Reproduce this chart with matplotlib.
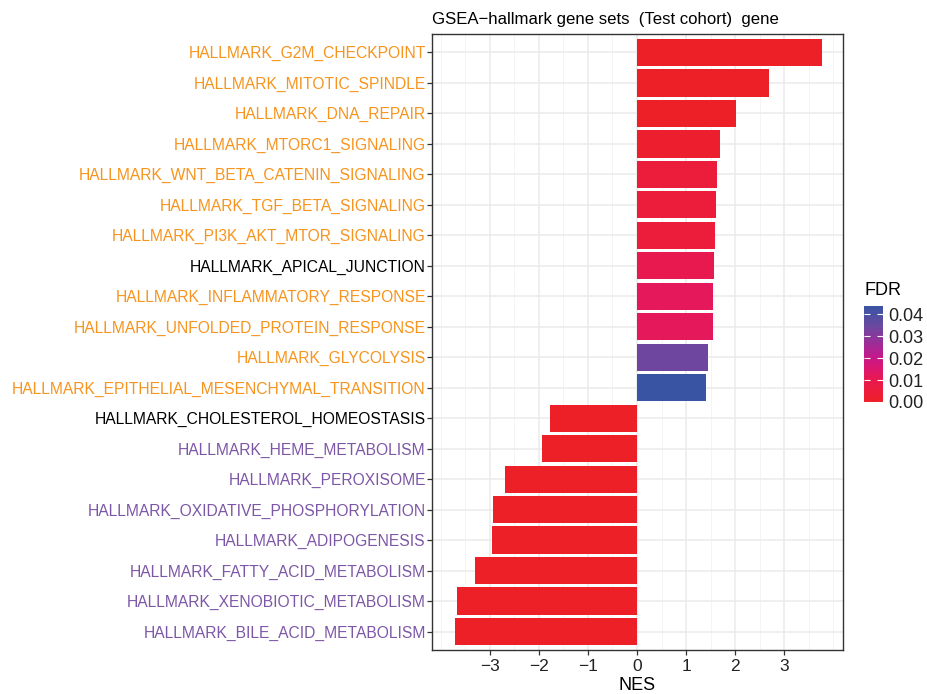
import numpy as np
import matplotlib
matplotlib.use("Agg")
import matplotlib.pyplot as plt
from matplotlib.colors import LinearSegmentedColormap, Normalize
from matplotlib.ticker import MultipleLocator

plt.rcParams['font.family'] = ['Liberation Sans', 'DejaVu Sans']

pathways = [
    "HALLMARK_G2M_CHECKPOINT", "HALLMARK_MITOTIC_SPINDLE", "HALLMARK_DNA_REPAIR",
    "HALLMARK_MTORC1_SIGNALING", "HALLMARK_WNT_BETA_CATENIN_SIGNALING",
    "HALLMARK_TGF_BETA_SIGNALING", "HALLMARK_PI3K_AKT_MTOR_SIGNALING",
    "HALLMARK_APICAL_JUNCTION", "HALLMARK_INFLAMMATORY_RESPONSE",
    "HALLMARK_UNFOLDED_PROTEIN_RESPONSE", "HALLMARK_GLYCOLYSIS",
    "HALLMARK_EPITHELIAL_MESENCHYMAL_TRANSITION", "HALLMARK_CHOLESTEROL_HOMEOSTASIS",
    "HALLMARK_HEME_METABOLISM", "HALLMARK_PEROXISOME",
    "HALLMARK_OXIDATIVE_PHOSPHORYLATION", "HALLMARK_ADIPOGENESIS",
    "HALLMARK_FATTY_ACID_METABOLISM", "HALLMARK_XENOBIOTIC_METABOLISM",
    "HALLMARK_BILE_ACID_METABOLISM",
]
nes = [3.77, 2.69, 2.02, 1.70, 1.63, 1.61, 1.60, 1.57, 1.55, 1.54, 1.44, 1.41,
       -1.77, -1.93, -2.69, -2.93, -2.95, -3.30, -3.67, -3.71]
fdr = [0.0, 0.0, 0.0, 0.002, 0.005, 0.005, 0.005, 0.010, 0.012, 0.012, 0.034, 0.0438,
       0.0, 0.0, 0.0, 0.0, 0.0, 0.0, 0.0, 0.0]
label_groups = ["up", "up", "up", "up", "up", "up", "up", "none", "up", "up", "up", "up",
                "none", "down", "down", "down", "down", "down", "down", "down"]
group_colors = {"up": "#F7941D", "none": "#000000", "down": "#7D57A7"}

title = "GSEA\u2212hallmark gene sets  (Test cohort)  gene"
x_ticks = [-3, -2, -1, 0, 1, 2, 3]
fdr_ticks = [0.00, 0.01, 0.02, 0.03, 0.04]

# colour scale (low FDR red -> high FDR blue)
cmap = LinearSegmentedColormap.from_list("fdr", [
    (0.00, "#EE2027"), (0.12, "#EC1C3C"), (0.23, "#E8194F"), (0.35, "#DC1670"),
    (0.47, "#C4188A"), (0.62, "#9A2E98"), (0.78, "#6E479F"), (0.90, "#4E4FA2"),
    (1.00, "#3A54A4")])
norm = Normalize(vmin=min(fdr), vmax=max(fdr))

W, H = 927, 694
fig = plt.figure(figsize=(W / 100, H / 100), dpi=100)
ax = fig.add_axes([432 / W, (H - 650) / H, (843 - 432) / W, (650 - 34) / H])

y = np.arange(len(pathways))[::-1]
ax.barh(y, nes, height=0.9, color=cmap(norm(np.array(fdr))), edgecolor='none', zorder=3)

ax.set_xlim(-4.18, 4.20)
ax.set_ylim(-0.6, len(pathways) - 1 + 0.6)
ax.set_xticks(x_ticks)
ax.set_xticklabels([f"\u2212{abs(v)}" if v < 0 else str(v) for v in x_ticks])
ax.xaxis.set_minor_locator(MultipleLocator(0.5))
ax.set_yticks(y)
ax.set_yticklabels(pathways)
for lab, g in zip(ax.get_yticklabels(), label_groups):
    lab.set_color(group_colors[g])

ax.grid(True, which='major', color='#EBEBEB', linewidth=1.1, zorder=0)
ax.grid(True, which='minor', axis='x', color='#F2F2F2', linewidth=0.6, zorder=0)
ax.set_axisbelow(True)
for s in ax.spines.values():
    s.set_color('#333333')
    s.set_linewidth(1.0)
ax.tick_params(axis='both', which='major', length=3.5, width=0.9, color='#333333')
ax.tick_params(axis='y', labelsize=11.25, pad=1)
ax.tick_params(axis='x', labelsize=12.5, labelcolor='#222222', pad=3)
ax.tick_params(which='minor', length=0)
ax.set_xlabel("NES", fontsize=13, labelpad=2)
ax.set_title(title, fontsize=12.1, loc='left', pad=7)

# colourbar legend
cax = fig.add_axes([864 / W, (H - 402) / H, 19 / W, 96 / H])
sm = matplotlib.cm.ScalarMappable(norm=norm, cmap=cmap)
cb = fig.colorbar(sm, cax=cax, ticks=fdr_ticks)
cb.outline.set_visible(False)
cb.ax.set_yticklabels([f"{v:.2f}" for v in fdr_ticks])
cb.ax.tick_params(axis='y', direction='in', color='white', length=4, width=0.8,
                  left=True, right=True, labelsize=13, pad=3.5, labelcolor='#222222')
fig.text(865 / W, 1 - 291 / H, "FDR", fontsize=13, va='center', ha='left')

fig.savefig("out.png", dpi=100)
